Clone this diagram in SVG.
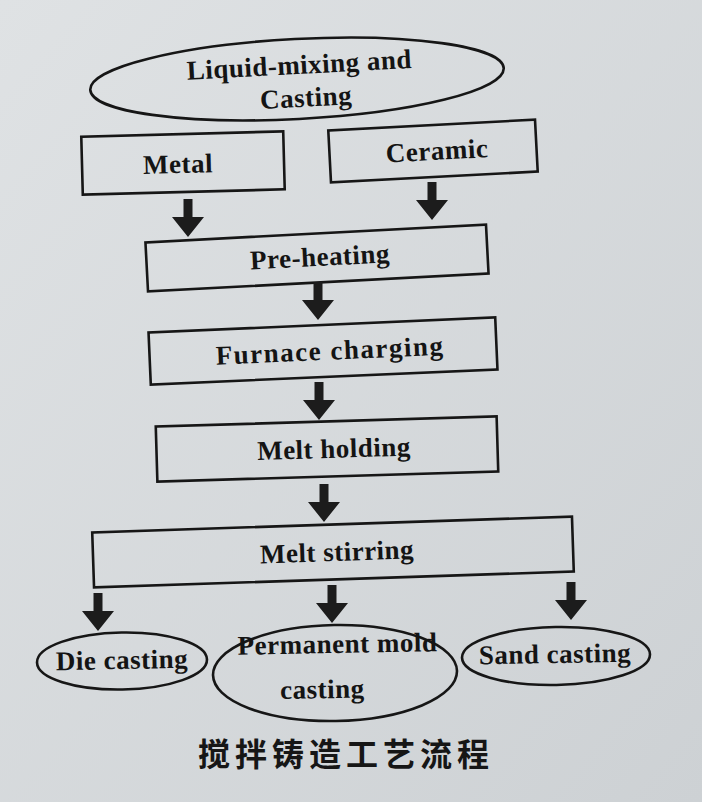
<svg xmlns="http://www.w3.org/2000/svg" width="702" height="802" viewBox="0 0 702 802">
<defs>
<linearGradient id="bg" x1="0" y1="0" x2="1" y2="1">
<stop offset="0" stop-color="#dfe2e4"/>
<stop offset="1" stop-color="#cdd1d4"/>
</linearGradient>
<path id="arr" d="M-4.5,-38 L4.5,-38 L4.5,-20 L16,-20 L0,0 L-16,-20 L-4.5,-20 Z"/>
<style>
.box{fill:none;stroke:#161616;stroke-width:2.6}
.t{font-family:"Liberation Serif","Times New Roman",serif;font-weight:bold;font-size:27px;fill:#141414;text-anchor:middle;letter-spacing:0.5px}
.cap{font-family:"Noto Sans CJK SC",sans-serif;font-weight:bold;font-size:32px;fill:#161616;letter-spacing:5px}
.a{fill:#1c1c1c}
</style>
</defs>
<rect width="702" height="802" fill="url(#bg)"/>
<g id="liquid-mixing" transform="translate(297,79) rotate(-3)">
<ellipse class="box" cx="0" cy="0" rx="207" ry="40"/>
<text class="t" x="3" y="-5">Liquid-mixing and</text>
<text class="t" x="8" y="28">Casting</text>
</g>
<g id="metal" transform="translate(183,163) rotate(-1.5)">
<rect class="box" x="-101" y="-29" width="202" height="58"/>
<text class="t" x="-5" y="10">Metal</text>
</g>
<g id="ceramic" transform="translate(433,151) rotate(-3)">
<rect class="box" x="-103.5" y="-26" width="207" height="52"/>
<text class="t" x="4" y="9">Ceramic</text>
</g>
<g id="pre-heating" transform="translate(317,258) rotate(-3)">
<rect class="box" x="-170.5" y="-24.5" width="341" height="49"/>
<text class="t" x="3" y="8">Pre-heating</text>
</g>
<g id="furnace-charging" transform="translate(323,351) rotate(-2.5)">
<rect class="box" x="-173.5" y="-26" width="347" height="52"/>
<text class="t" x="7" y="9" style="letter-spacing:1.5px">Furnace charging</text>
</g>
<g id="melt-holding" transform="translate(327,449) rotate(-1.7)">
<rect class="box" x="-170.5" y="-27.5" width="341" height="55"/>
<text class="t" x="7" y="9">Melt holding</text>
</g>
<g id="melt-stirring" transform="translate(333,552) rotate(-1.9)">
<rect class="box" x="-240" y="-27.5" width="480" height="55"/>
<text class="t" x="4" y="9">Melt stirring</text>
</g>
<g id="die-casting" transform="translate(122,661) rotate(-1)">
<ellipse class="box" cx="0" cy="0" rx="85" ry="28.5"/>
<text class="t" x="0" y="8">Die casting</text>
</g>
<g id="permanent-mold-casting" transform="translate(335,673) rotate(-1)">
<ellipse class="box" cx="0" cy="0" rx="122" ry="48"/>
<text class="t" x="3" y="-20">Permanent mold</text>
<text class="t" x="-13" y="25">casting</text>
</g>
<g id="sand-casting" transform="translate(556,656) rotate(-1)">
<ellipse class="box" cx="0" cy="0" rx="94" ry="29"/>
<text class="t" x="-1" y="7">Sand casting</text>
</g>
<g id="connectors" class="a">
<use href="#arr" x="188" y="237"/>
<use href="#arr" x="432" y="220"/>
<use href="#arr" x="318" y="320"/>
<use href="#arr" x="319" y="420"/>
<use href="#arr" x="324" y="522"/>
<use href="#arr" x="98" y="631"/>
<use href="#arr" x="332" y="623"/>
<use href="#arr" x="571" y="620"/>
</g>
<text id="caption" class="cap" x="198" y="766">搅拌铸造工艺流程</text>
</svg>
